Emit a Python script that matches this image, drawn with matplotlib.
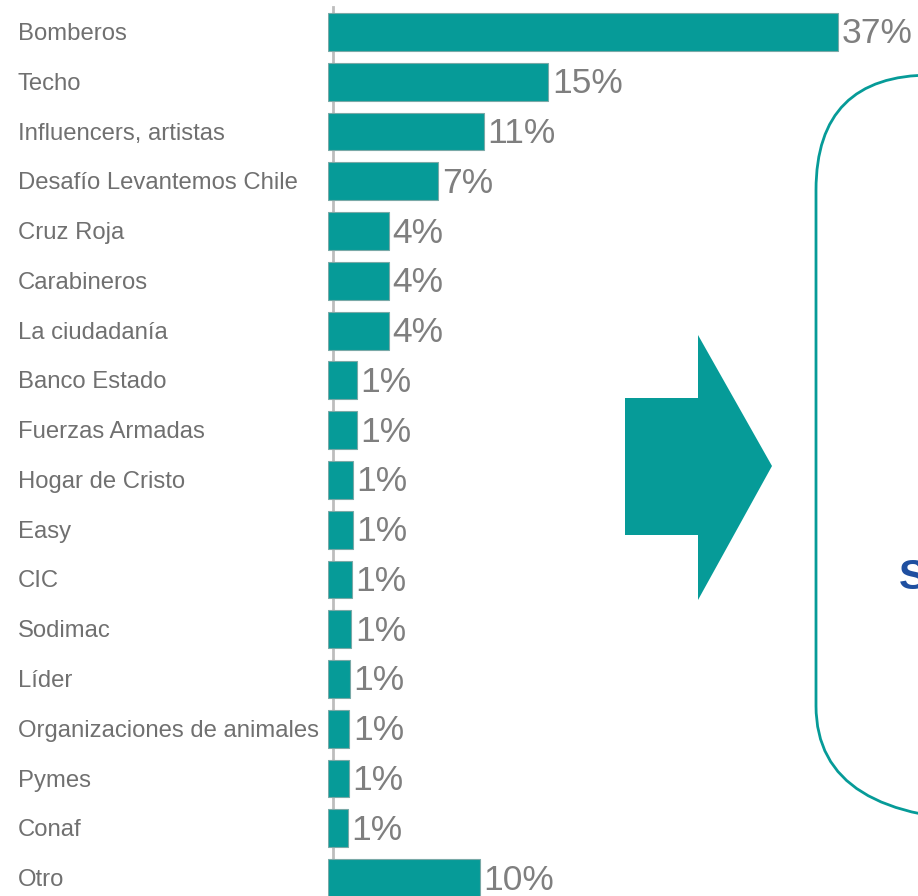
import matplotlib.pyplot as plt
from matplotlib.patches import Polygon, FancyBboxPatch
from matplotlib.transforms import blended_transform_factory

plt.rcParams['font.family'] = ['Liberation Sans', 'DejaVu Sans']

# categories and shares (bar lengths, labels as printed)
categorias = ['Bomberos', 'Techo', 'Influencers, artistas', 'Desafío Levantemos Chile',
              'Cruz Roja', 'Carabineros', 'La ciudadanía', 'Banco Estado',
              'Fuerzas Armadas', 'Hogar de Cristo', 'Easy', 'CIC', 'Sodimac', 'Líder',
              'Organizaciones de animales', 'Pymes', 'Conaf', 'Otro']
valores = [37.0, 16.0, 11.3, 8.0, 4.4, 4.4, 4.4, 2.1, 2.1, 1.8, 1.8, 1.75, 1.7,
           1.6, 1.55, 1.5, 1.45, 11.0]
etiquetas = ['37%', '15%', '11%', '7%', '4%', '4%', '4%', '1%', '1%', '1%', '1%',
             '1%', '1%', '1%', '1%', '1%', '1%', '10%']

W, H = 918, 896
teal = '#069b98'
fig = plt.figure(figsize=(W / 100, H / 100), dpi=100)

# bar chart
ax = fig.add_axes([328 / W, 0, 590 / W, 1])
y = list(range(len(categorias)))
ax.barh(y, valores, height=0.76, color=teal, edgecolor='#7aa9a7', linewidth=0.8, zorder=3)
ax.set_xlim(0, 590 / 13.78)
ax.set_ylim(17.36, -0.643)
ax.axis('off')
ax.plot([0.36, 0.36], [-0.5, 17.36], color='#bdbdbd', lw=2, zorder=1)

for i, (v, t) in enumerate(zip(valores, etiquetas)):
    ax.text(v + 0.25, i + 0.04, t, va='center', ha='left', fontsize=25.5, color='#7f7f7f')

tr = blended_transform_factory(fig.transFigure, ax.transData)
for i, c in enumerate(categorias):
    ax.text(18 / W, i + 0.04, c, transform=tr, va='center', ha='left', fontsize=17.2,
            color='#707070')

# arrow and rounded box on the right
ov = fig.add_axes([0, 0, 1, 1], zorder=-1)
ov.set_xlim(0, W)
ov.set_ylim(H, 0)
ov.axis('off')
ov.add_patch(Polygon([(625, 398), (698, 398), (698, 335), (772, 466), (698, 600),
                      (698, 535), (625, 535)], closed=True, color=teal, lw=0))
ov.add_patch(FancyBboxPatch((816, 75), 300, 746,
                            boxstyle='round,pad=0,rounding_size=115',
                            fill=False, edgecolor=teal, lw=2))
ov.text(899, 578, 'S', fontsize=30, fontweight='bold', color='#1f4fa0',
        va='center', ha='left')

fig.savefig('out.png', dpi=100)
